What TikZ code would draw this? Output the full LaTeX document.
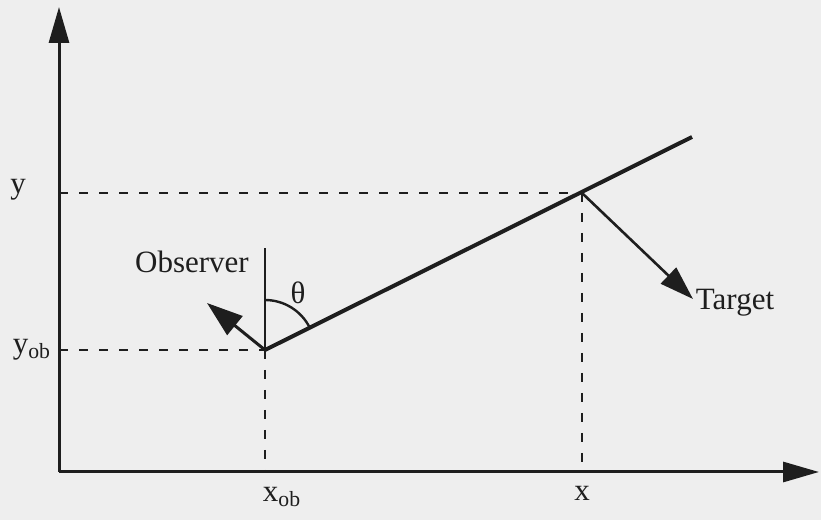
\documentclass[tikz,border=0pt]{standalone}
\usepackage{fontspec}
\setmainfont{Liberation Serif}
\usetikzlibrary{arrows.meta}
\definecolor{bg}{RGB}{238,238,238}
\definecolor{ink}{RGB}{30,30,30}
\tikzset{
  axis/.style={ink, line width=1.5pt, -{Triangle[length=18pt,width=10pt]}},
  guide/.style={ink, line width=1.4pt, dash pattern=on 4.5pt off 5.5pt},
  sight/.style={ink, line width=2pt},
  vec/.style={ink, line width=1.5pt, -{Triangle[length=17pt,width=11pt]}},
  lbl/.style={text=ink, font=\fontsize{15.5}{18}\selectfont, inner sep=0pt}
}
\begin{document}
\begin{tikzpicture}[x=0.5pt,y=0.5pt]
\fill[bg] (0,0) rectangle (821,520);
\useasboundingbox (0,0) rectangle (821,520);
% coordinates
\coordinate (O) at (59,48);
\coordinate (ytop) at (59,513);
\coordinate (xend) at (819,48);
\coordinate (ob) at (265,170);
\coordinate (tg) at (582,327);
\coordinate (lineend) at (692,383);
\coordinate (vtop) at (265,272);
\coordinate (xobfoot) at (265,48);
\coordinate (xfoot) at (582,48);
\coordinate (yleft) at (59,327);
\coordinate (yobleft) at (59,170);
\coordinate (obtip) at (207,217);
\coordinate (tgtip) at (693,221);
% guides
\draw[guide] (yleft) -- (tg);
\draw[guide] (tg) -- (xfoot);
\draw[guide] (yobleft) -- (ob);
\draw[guide] (ob) -- (xobfoot);
% axes
\draw[axis] (O) -- (ytop);
\draw[axis] (O) -- (xend);
% line of sight
\draw[sight] (ob) -- (lineend);
\draw[ink, line width=1pt] (ob) -- (vtop);
% angle arc
\draw[ink, line width=1.2pt] (ob) ++(0,50) arc[start angle=90, end angle=26.5, radius=25pt];
% vectors
\draw[vec, -{Triangle[length=18pt,width=12pt]}] (ob) -- (obtip);
\draw[vec, line width=1.3pt] (tg) -- (tgtip);
% labels
\node[lbl] (ylab) at (18,330) {y};
\node[lbl] (yoblab) at (32,170) {y\textsubscript{ob}};
\node[lbl] (xoblab) at (282,23) {x\textsubscript{ob}};
\node[lbl] (xlab) at (582,27) {x};
\node[lbl] (obslab) at (192,258) {Observer};
\node[lbl] (tglab) at (735,217) {Target};
\node[lbl] (thlab) at (298,227) {θ};
\end{tikzpicture}
\end{document}
